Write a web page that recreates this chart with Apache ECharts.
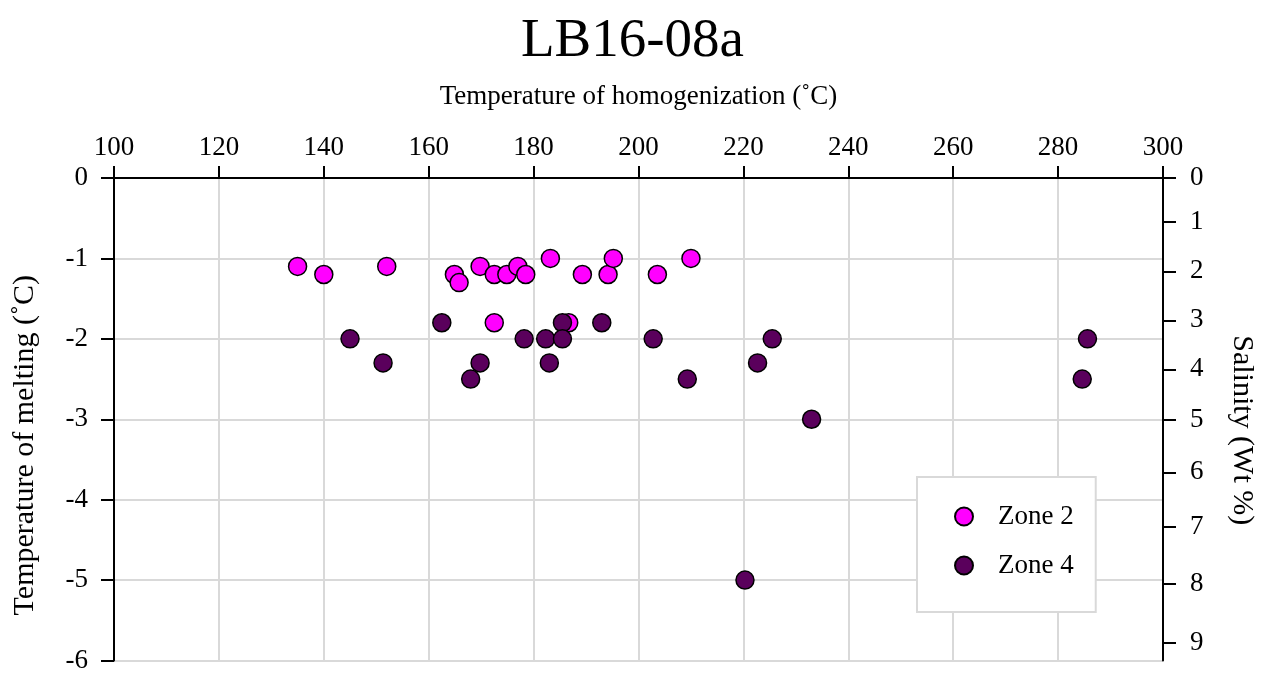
<!DOCTYPE html>
<html>
<head>
<meta charset="utf-8">
<script src="https://cdn.jsdelivr.net/npm/echarts@6/dist/echarts.min.js"></script>
<style>
    html, body { margin: 0; padding: 0; background: #fff; }
    #chart { width: 1265px; height: 674px; }
</style>
</head>
<body>
<div id="chart"></div>
<script>
// Zone 2 fluid inclusions: [Th (°C), Tm (°C)]
const zone2 = [
    [135.0, -1.1], [140.0, -1.2], [152.0, -1.1], [164.9, -1.2], [165.8, -1.3],
    [169.8, -1.1], [172.5, -1.2], [174.9, -1.2], [177.0, -1.1], [178.5, -1.2],
    [183.2, -1.0], [189.3, -1.2], [194.2, -1.2], [195.2, -1.0], [203.6, -1.2],
    [210.0, -1.0], [172.5, -1.8], [186.7, -1.8]
];

// Zone 4
const zone4 = [
    [145.0, -2.0], [151.3, -2.3], [162.5, -1.8], [169.8, -2.3], [168.0, -2.5],
    [178.2, -2.0], [182.3, -2.0], [183.0, -2.3], [185.5, -1.8], [185.5, -2.0],
    [193.0, -1.8], [202.8, -2.0], [209.3, -2.5], [225.5, -2.0], [222.7, -2.3],
    [233.0, -3.0], [285.6, -2.0], [284.6, -2.5], [220.3, -5.0]
];

// salinity labels on the right axis and the Tm value where each one sits
const salinityLabels = [0, 1, 2, 3, 4, 5, 6, 7, 8, 9];
const salinityTm = [0, -0.54, -1.16, -1.77, -2.38, -3.01, -3.66, -4.34, -5.05, -5.78];

const FONT = 'Liberation Serif';
const GRID_COLOR = '#d9d9d9';

const myChart = echarts.init(document.getElementById('chart'));

const salinityFor = v => {
    let best = 0;
    salinityTm.forEach((t, i) => {
        if (Math.abs(t - v) < Math.abs(salinityTm[best] - v)) best = i;
    });
    return String(salinityLabels[best]);
};

const option = {
    animation: false,
    backgroundColor: '#fff',
    textStyle: { fontFamily: FONT },
    title: {
        text: 'LB16-08a',
        left: 'center',
        top: 9,
        textStyle: { fontFamily: FONT, fontSize: 55, fontWeight: 'normal', color: '#000' }
    },
    legend: {
        orient: 'vertical',
        left: 917,
        top: 477,
        padding: [26, 22, 33, 37],
        itemGap: 22,
        itemWidth: 18,
        itemHeight: 18,
        backgroundColor: '#fff',
        borderColor: GRID_COLOR,
        borderWidth: 2,
        textStyle: { fontFamily: FONT, fontSize: 27, color: '#000', padding: [0, 0, 0, 20] },
        data: ['Zone 2', 'Zone 4']
    },
    grid: {
        left: 114,
        right: 101,
        top: 178,
        bottom: 8
    },
    xAxis: {
        type: 'value',
        position: 'top',
        min: 100,
        max: 300,
        interval: 20,
        name: 'Temperature of homogenization (˚C)',
        nameLocation: 'middle',
        nameGap: 68,
        nameTextStyle: { fontFamily: FONT, fontSize: 27, color: '#000' },
        axisLine: { onZero: false, lineStyle: { color: '#000', width: 2 } },
        axisTick: { length: 12, lineStyle: { color: '#000', width: 2 } },
        axisLabel: { fontFamily: FONT, fontSize: 27, color: '#000', margin: 17 },
        splitLine: { lineStyle: { color: GRID_COLOR, width: 2 } }
    },
    yAxis: [
        {
            type: 'value',
            position: 'left',
            min: -6,
            max: 0,
            interval: 1,
            name: 'Temperature of melting (˚C)',
            nameLocation: 'middle',
            nameGap: 74,
            nameTextStyle: { fontFamily: FONT, fontSize: 30, color: '#000', padding: [0, 52, 0, 0] },
            axisLine: { show: true, onZero: false, lineStyle: { color: '#000', width: 2 } },
            axisTick: { show: true, length: 13, lineStyle: { color: '#000', width: 2 } },
            axisLabel: { fontFamily: FONT, fontSize: 27, color: '#000', margin: 26 },
            splitLine: { lineStyle: { color: GRID_COLOR, width: 2 } }
        },
        {
            type: 'value',
            position: 'right',
            min: -6,
            max: 0,
            name: 'Salinity (Wt %)',
            nameLocation: 'middle',
            nameGap: 64,
            nameRotate: -90,
            nameTextStyle: { fontFamily: FONT, fontSize: 30, color: '#000', padding: [0, 0, 0, 22] },
            axisLine: { show: true, onZero: false, lineStyle: { color: '#000', width: 2 } },
            axisTick: { show: true, length: 13, customValues: salinityTm, lineStyle: { color: '#000', width: 2 } },
            axisLabel: {
                fontFamily: FONT, fontSize: 27, color: '#000', margin: 27,
                customValues: salinityTm,
                formatter: salinityFor
            },
            splitLine: { show: false }
        }
    ],
    series: [
        {
            name: 'Zone 2',
            type: 'scatter',
            symbolSize: 18,
            itemStyle: { color: '#ff00ff', borderColor: '#000', borderWidth: 1.5, opacity: 1 },
            data: zone2
        },
        {
            name: 'Zone 4',
            type: 'scatter',
            symbolSize: 18,
            itemStyle: { color: '#5a005c', borderColor: '#000', borderWidth: 1.5, opacity: 1 },
            data: zone4
        }
    ]
};

myChart.setOption(option);
</script>
</body>
</html>
